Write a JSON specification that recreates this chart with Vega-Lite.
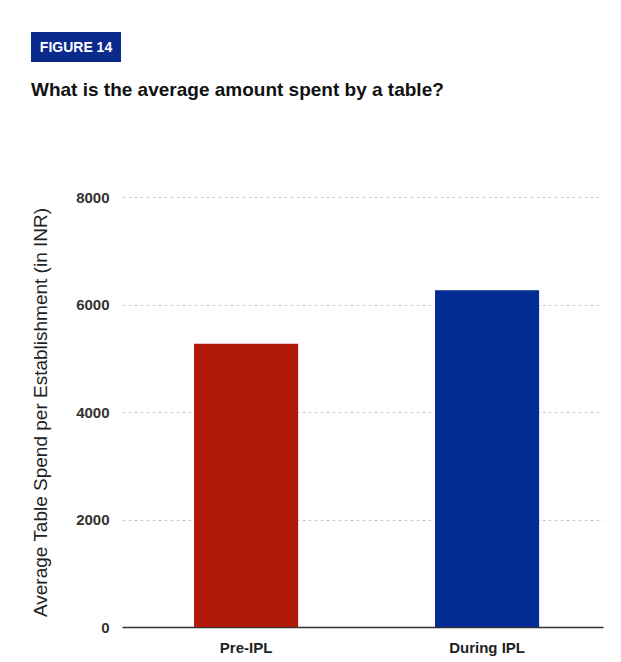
{
  "$schema": "https://vega.github.io/schema/vega-lite/v6.json",
  "background": "white",
  "padding": {"left": 31, "top": 32, "right": 14, "bottom": 4},
  "config": {
    "font": "Liberation Sans",
    "view": {"stroke": null}
  },
  "datasets": {
    "spend": [
      {"period": "Pre-IPL", "spend": 5270},
      {"period": "During IPL", "spend": 6265}
    ]
  },
  "spacing": 19,
  "vconcat": [
    {
      "width": 90,
      "height": 30,
      "view": {"fill": "#0a2a8c", "stroke": null},
      "data": {"values": [{"badge": "FIGURE 14"}]},
      "mark": {"type": "text", "color": "white", "fontSize": 14, "fontWeight": "bold", "align": "center", "baseline": "middle", "dy": 1},
      "encoding": {"text": {"field": "badge"}}
    },
    {
      "title": {
        "text": "What is the average amount spent by a table?",
        "anchor": "start",
        "frame": "bounds",
        "fontSize": 19,
        "fontWeight": "bold",
        "color": "#111",
        "offset": 90
      },
      "bounds": "flush",
      "spacing": 0,
      "hconcat": [
        {
          "width": 91,
          "height": 430,
          "data": {"name": "spend"},
          "mark": {"type": "point", "opacity": 0},
          "encoding": {
            "y": {
              "field": "spend",
              "type": "quantitative",
              "scale": {"domain": [0, 8000], "nice": false},
              "axis": {
                "title": "Average Table Spend per Establishment (in INR)",
                "offset": -91,
                "values": [0, 2000, 4000, 6000, 8000],
                "format": "d",
                "grid": false,
                "domain": false,
                "ticks": false,
                "labelFontSize": 15,
                "labelFontWeight": "bold",
                "labelColor": "#333",
                "labelPadding": 13,
                "titleFontSize": 19,
                "titleFontWeight": "normal",
                "titleColor": "#222",
                "titlePadding": 25
              }
            }
          }
        },
        {
          "width": 481,
          "height": 430,
          "data": {"name": "spend"},
          "mark": {"type": "bar"},
          "encoding": {
            "x": {
              "field": "period",
              "type": "nominal",
              "sort": null,
              "scale": {"paddingInner": 0.568, "paddingOuter": 0.282, "align": 0.53},
              "axis": {
                "title": null,
                "labelAngle": 0,
                "labelFontSize": 15,
                "labelFontWeight": "bold",
                "labelColor": "#222",
                "labelPadding": 13,
                "ticks": false,
                "domainColor": "#333",
                "domainWidth": 1.5,
                "grid": false
              }
            },
            "y": {
              "field": "spend",
              "type": "quantitative",
              "scale": {"domain": [0, 8000], "nice": false},
              "axis": {
                "title": null,
                "values": [2000, 4000, 6000, 8000],
                "labels": false,
                "domain": false,
                "ticks": false,
                "gridColor": "#cccccc",
                "gridDash": [3, 3]
              }
            },
            "color": {
              "field": "period",
              "type": "nominal",
              "sort": null,
              "scale": {"domain": ["Pre-IPL", "During IPL"], "range": ["#b1190b", "#022c93"]},
              "legend": null
            }
          }
        }
      ]
    }
  ]
}
